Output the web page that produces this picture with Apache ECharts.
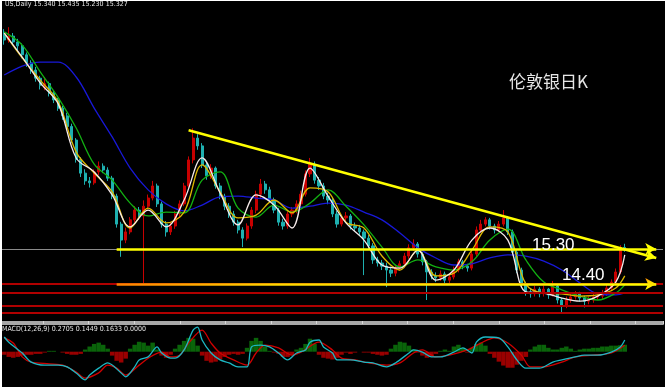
<!DOCTYPE html>
<html><head><meta charset="utf-8">
<script src="https://cdn.jsdelivr.net/npm/echarts@6/dist/echarts.min.js"></script>
<style>html,body{margin:0;padding:0;background:#000;}#c{width:665px;height:387px;}</style>
</head><body><div id="c"></div>
<script>
// ---------- data ----------
const categories = Array.from({length: 147}, (_, i) => 'D' + (i + 1));   // daily bars (+ empty right margin)
const tickCategories = Array.from({length: 145}, (_, i) => 'T' + (i + 1));

const opens = [
20.80,20.67,20.77,20.62,20.52,20.29,20.08,19.90,19.69,19.45,
19.55,19.31,19.13,18.92,18.72,18.45,18.10,17.60,17.25,17.05,
17.00,17.28,17.43,17.33,17.12,16.66,15.94,15.53,15.74,16.05,
16.30,16.15,16.40,16.61,16.92,16.46,15.94,15.74,15.89,16.20,
16.46,16.92,17.59,18.15,17.95,17.46,17.18,17.38,16.92,16.66,
16.40,16.20,15.99,15.79,15.58,15.89,16.30,16.71,16.97,16.82,
16.56,16.30,15.99,15.89,16.20,16.30,16.46,16.71,17.23,17.48,
17.07,16.92,16.66,16.56,16.20,15.94,16.10,16.15,15.89,15.84,
15.74,15.58,15.38,15.02,14.94,14.86,14.76,14.68,14.81,14.92,
15.12,15.33,15.43,15.17,14.97,14.71,14.61,14.56,14.66,14.50,
14.58,14.76,14.97,14.86,14.81,15.17,15.79,15.94,16.05,15.89,
15.79,15.94,16.10,15.74,15.22,14.76,14.40,14.20,14.15,14.27,
14.15,14.27,14.12,14.35,13.99,13.86,13.99,14.07,14.15,14.04,
13.96,13.99,14.07,14.09,14.17,14.30,14.45,14.71,15.34];
const closes = [
20.67,20.77,20.62,20.52,20.29,20.08,19.90,19.69,19.51,19.55,
19.31,19.13,18.92,18.72,18.45,18.10,17.60,17.25,17.05,17.00,
17.28,17.43,17.33,17.12,16.66,15.94,15.53,15.74,16.05,16.30,
16.15,16.40,16.61,16.92,16.46,15.94,15.74,15.89,16.20,16.46,
16.92,17.59,18.15,17.95,17.46,17.18,17.38,16.92,16.66,16.40,
16.20,15.99,15.79,15.58,15.89,16.30,16.71,16.97,16.82,16.56,
16.30,15.99,15.89,16.20,16.30,16.46,16.71,17.23,17.48,17.07,
16.92,16.66,16.56,16.20,15.94,16.10,16.15,15.89,15.84,15.74,
15.58,15.38,15.02,14.94,14.86,14.76,14.68,14.81,14.92,15.12,
15.33,15.43,15.17,14.97,14.71,14.61,14.56,14.66,14.50,14.58,
14.76,14.97,14.86,14.81,15.17,15.79,15.94,16.05,15.89,15.79,
15.94,16.10,15.74,15.22,14.76,14.40,14.20,14.15,14.27,14.15,
14.27,14.12,14.35,13.99,13.86,13.99,14.07,14.15,14.04,13.96,
13.99,14.07,14.09,14.17,14.30,14.45,14.71,15.34,15.327];
const highs = [
20.95,21.00,20.85,20.70,20.58,20.35,20.15,19.98,19.75,19.72,
19.60,19.36,19.18,18.98,18.80,18.52,18.15,17.66,17.35,17.15,
17.35,17.55,17.50,17.40,17.18,16.72,16.00,15.85,16.12,16.40,
16.38,16.55,16.70,17.05,16.98,16.52,16.02,15.98,16.28,16.55,
17.00,17.68,18.40,18.25,18.02,17.55,17.48,17.42,17.00,16.72,
16.48,16.28,16.05,15.86,15.96,16.38,16.80,17.10,17.05,16.90,
16.62,16.36,16.08,16.28,16.38,16.55,16.80,17.32,17.64,17.55,
17.15,17.00,16.75,16.62,16.28,16.18,16.25,16.20,15.98,15.92,
15.80,15.66,15.45,15.10,15.02,14.95,14.85,14.90,15.00,15.20,
15.42,15.55,15.48,15.22,15.02,14.78,14.70,14.75,14.72,14.66,
14.85,15.05,15.02,14.92,15.25,15.88,16.05,16.12,16.10,15.95,
16.02,16.30,16.15,15.80,15.28,14.82,14.46,14.28,14.35,14.32,
14.36,14.30,14.48,14.40,14.05,14.08,14.15,14.22,14.20,14.10,
14.08,14.15,14.18,14.25,14.38,14.52,14.80,15.40,15.435];
const lows = [
20.55,20.60,20.55,20.40,20.20,19.98,19.80,19.60,19.40,19.38,
19.22,19.05,18.85,18.62,18.38,18.02,17.52,17.15,16.95,16.88,
16.95,17.20,17.25,17.05,16.58,15.85,15.10,15.45,15.68,15.98,
16.05,14.40,16.32,16.55,16.38,15.85,15.62,15.66,15.82,16.12,
16.40,16.85,17.50,17.85,17.38,17.08,17.10,16.85,16.58,16.30,
16.10,15.90,15.70,15.35,15.52,15.82,16.22,16.62,16.72,16.48,
16.22,15.90,15.80,15.82,16.12,16.22,16.40,16.65,17.15,16.98,
16.82,16.58,16.45,16.12,15.85,15.88,16.02,15.80,15.75,15.65,
14.63,15.28,14.92,14.85,14.76,14.32,14.58,14.60,14.74,14.85,
15.05,15.25,15.08,14.88,13.99,14.52,14.45,14.48,14.40,14.42,
14.52,14.70,14.78,14.72,14.75,15.10,15.72,15.88,15.80,15.70,
15.74,15.88,15.66,15.14,14.68,14.32,14.10,14.05,14.08,14.06,
14.08,14.02,14.08,13.90,13.66,13.78,13.92,14.00,13.95,13.80,
13.88,13.92,14.00,14.02,14.10,14.22,14.38,14.65,15.23];

// moving-average lines read at these bars
const maBars = [0,4,8,12,16,20,24,28,32,36,40,44,48,52,56,60,64,68,72,76,80,84,88,92,96,100,104,108,112,116,120,124,128,132,136,138];
const maWhite = [20.85,20.23,19.57,19.03,17.64,17.28,16.69,15.87,16.30,15.87,16.56,17.64,16.74,15.92,16.69,16.43,15.84,17.38,16.66,15.97,15.53,14.89,14.81,15.27,14.50,14.76,15.53,15.84,15.53,14.20,14.17,14.04,13.96,14.09,14.45,15.15];
const maYellow = [20.85,20.21,19.64,19.08,17.79,17.25,16.77,15.84,16.35,15.97,16.25,17.46,16.77,16.10,16.17,16.56,16.23,16.87,16.77,15.99,15.84,15.12,14.76,15.27,14.61,14.68,15.27,15.87,15.74,14.40,14.17,14.15,14.09,14.12,14.30,14.61];
const maGreen = [20.88,20.54,19.85,19.19,18.41,17.48,17.07,16.48,16.15,16.25,16.23,17.07,17.28,16.35,16.12,16.43,16.25,16.48,16.82,16.40,15.92,15.35,14.84,15.02,14.84,14.76,14.97,15.53,15.81,15.02,14.45,14.25,14.09,13.99,14.17,14.38];
const maBlue = [19.77,20.00,20.10,20.10,19.72,18.92,18.18,17.38,16.82,16.46,16.28,16.43,16.64,16.66,16.61,16.56,16.35,16.40,16.48,16.43,16.25,16.05,15.71,15.33,15.07,14.89,14.92,15.07,15.15,15.12,14.99,14.76,14.43,14.15,14.12,14.17];

// drawn levels
const grayLevels = [15.30];
const redLevels = [14.40, 14.18, 13.85, 13.67];
const resistance = 15.30, support = 14.40;
const levelStartBar = 25, levelEndBar = 145;
const trendStart = [41, 18.35], trendEnd = [145, 15.07];

// MACD(12,26,9)
const macdBars = [0,1,4,6,9,12,14,16,18,19,21,23,26,27,29,30,32,34,35,37,38,40,42,43,44,46,48,50,52,54,55,57,59,61,63,65,67,68,70,71,73,74,77,80,82,85,87,90,91,93,95,97,100,102,104,105,107,110,112,114,116,119,122,124,127,129,132,135,137,138];
const macdMain = [0.34,0.22,-0.03,-0.24,-0.31,-0.31,-0.35,-0.49,-0.65,-0.54,-0.38,-0.26,-0.49,-0.58,-0.35,-0.19,-0.12,0.11,-0.03,-0.15,-0.15,0.04,0.50,0.57,0.27,-0.03,-0.19,-0.26,-0.35,-0.35,0.11,0.15,0.11,-0.03,-0.19,-0.03,0.04,0.22,0.27,0.11,-0.03,-0.19,-0.19,-0.24,-0.26,-0.35,-0.26,-0.03,0.04,-0.01,-0.12,-0.12,-0.01,0.09,-0.03,0.22,0.34,0.32,0.11,-0.19,-0.38,-0.38,-0.24,-0.19,-0.12,-0.08,-0.08,-0.01,0.11,0.27];
const signalBars = [0,2,4,6,10,13,16,18,21,23,25,27,30,32,35,37,39,41,44,46,48,51,54,56,58,61,64,66,70,73,75,78,81,85,88,91,93,96,99,103,106,109,112,115,117,120,124,127,131,135,138];
const macdSignal = [0.32,0.20,-0.12,-0.24,-0.28,-0.31,-0.47,-0.61,-0.49,-0.31,-0.38,-0.54,-0.31,-0.15,-0.01,-0.12,-0.08,0.20,0.50,0.20,-0.03,-0.19,-0.31,-0.03,0.15,0.09,-0.08,-0.01,0.22,0.04,-0.15,-0.19,-0.26,-0.31,-0.26,-0.03,0.04,-0.12,-0.08,0.04,0.20,0.32,0.20,-0.08,-0.35,-0.35,-0.24,-0.12,-0.08,-0.03,0.15];
const macdHist = [
-0.07,-0.12,-0.14,-0.12,-0.09,
-0.07,-0.07,-0.05,-0.05,-0.02,0.02,0.02,0.00,-0.02,-0.05,-0.07,-0.07,-0.05,
0.05,0.12,0.18,0.21,0.16,0.07,
-0.09,-0.21,-0.25,-0.16,
0.07,0.16,0.23,0.21,0.14,
0.21,0.05,
-0.09,-0.14,-0.07,
0.07,0.16,0.25,0.32,0.30,0.14,
-0.09,-0.21,-0.25,-0.23,-0.18,-0.12,-0.07,
-0.05,-0.07,-0.05,
0.09,0.25,0.32,0.25,0.12,
0.02,-0.02,-0.05,
-0.12,-0.12,-0.07,
0.05,0.09,0.18,0.30,0.18,
-0.07,-0.14,-0.16,-0.18,-0.14,-0.07,
-0.02,-0.05,-0.02,0.00,-0.02,-0.02,-0.05,
-0.07,-0.09,-0.07,
0.07,0.16,0.23,0.21,0.14,
0.05,-0.02,
-0.09,-0.14,-0.12,-0.05,
0.02,0.05,0.02,
0.12,0.16,0.09,
-0.02,
0.09,0.18,0.21,0.14,
-0.05,-0.14,-0.23,-0.32,-0.37,-0.37,-0.30,-0.21,-0.12,
0.05,0.12,0.16,0.16,0.09,0.05,
0.05,0.09,0.12,0.07,0.02,
0.05,0.07,0.07,0.09,0.09,0.12,0.12,0.14,0.14,0.15,0.16];

// ---------- chart ----------
const candleData = opens.map((o, i) => [o, closes[i], lows[i], highs[i]]);
const pairs = (bars, vals) => bars.map((b, k) => [b, vals[k]]);
const maLine = (name, vals, color, w) => ({
  name, type: 'line', xAxisIndex: 0, yAxisIndex: 0, data: pairs(maBars, vals),
  symbol: 'none', smooth: 0.35, silent: true, z: 3,
  lineStyle: {color, width: w}
});

const chart = echarts.init(document.getElementById('c'));
chart.setOption({
  backgroundColor: '#000',
  animation: false,
  grid: [
    {left: 2, top: 2, width: 661, height: 320},
    {left: 2, top: 324, width: 661, height: 60}
  ],
  xAxis: [
    {type: 'category', gridIndex: 0, data: categories, boundaryGap: true,
     axisLine: {show: true, lineStyle: {color: '#a8a8a8', width: 2}},
     axisTick: {show: false}, axisLabel: {show: false}, splitLine: {show: false}},
    {type: 'category', gridIndex: 1, data: categories, boundaryGap: true, show: false},
    {type: 'category', gridIndex: 1, data: tickCategories, boundaryGap: true,
     axisLine: {show: true, lineStyle: {color: '#a8a8a8', width: 2}},
     axisTick: {show: true, interval: (i) => i % 10 === 9, length: 3, lineStyle: {color: '#d8d8d8'}},
     axisLabel: {show: false}, splitLine: {show: false}}
  ],
  yAxis: [
    {type: 'value', gridIndex: 0, min: 13.425, max: 21.647, show: false, splitLine: {show: false}},
    {type: 'value', gridIndex: 1, min: -0.746, max: 0.64, show: false, splitLine: {show: false}}
  ],
  series: [
    {name: 'levels', type: 'line', xAxisIndex: 0, yAxisIndex: 0, data: [], z: 1,
     markLine: {silent: true, symbol: ['none', 'none'], label: {show: false},
       data: [
         ...grayLevels.map(v => ({yAxis: v, lineStyle: {color: '#8a8a8a', width: 1, type: 'solid'}})),
         ...redLevels.map(v => ({yAxis: v, lineStyle: {color: '#b00000', width: 2, type: 'solid'}}))
       ]}},
    {name: 'XAGUSD', type: 'candlestick', xAxisIndex: 0, yAxisIndex: 0, data: candleData,
     barWidth: 2.6, z: 2,
     itemStyle: {color: '#c80000', color0: '#1eb0b0', borderColor: '#c80000', borderColor0: '#1eb0b0', borderWidth: 1}},
    maLine('MA blue', maBlue, '#1818d8', 1.3),
    maLine('MA green', maGreen, '#12b012', 1.3),
    maLine('MA yellow', maYellow, '#dcb800', 1.3),
    maLine('MA white', maWhite, '#f6eaea', 1.3),
    {name: 'drawn', type: 'line', xAxisIndex: 0, yAxisIndex: 0, data: [], z: 5,
     markLine: {silent: true, symbol: ['none', 'arrow'], symbolSize: [9, 11], label: {show: false},
       data: [
         [{coord: [levelStartBar, resistance], lineStyle: {color: '#ffff00', width: 2.5, type: 'solid'}},
          {coord: [levelEndBar, resistance]}],
         [{coord: [levelStartBar, support], lineStyle: {width: 2.5, type: 'solid',
            color: {type: 'linear', x: 0, y: 0, x2: 1, y2: 0,
                    colorStops: [{offset: 0, color: '#ff8000'}, {offset: 0.3, color: '#ffd800'}, {offset: 1, color: '#ffff00'}]}}},
          {coord: [levelEndBar, support]}],
         [{coord: trendStart, lineStyle: {color: '#ffff00', width: 2.5, type: 'solid'}},
          {coord: trendEnd}]
       ]}},
    {name: 'MACD hist', type: 'bar', xAxisIndex: 1, yAxisIndex: 1, data: macdHist,
     barCategoryGap: '0%', barWidth: '100%', silent: true,
     itemStyle: {color: (p) => p.value >= 0 ? '#0a640a' : '#9a0000'}},
    {name: 'MACD', type: 'line', xAxisIndex: 1, yAxisIndex: 1, data: pairs(macdBars, macdMain),
     symbol: 'none', smooth: 0.3, silent: true, lineStyle: {color: '#1cb8c4', width: 1.3}, z: 4},
    {name: 'Signal', type: 'line', xAxisIndex: 1, yAxisIndex: 1, data: pairs(signalBars, macdSignal),
     symbol: 'none', smooth: 0.3, silent: true, lineStyle: {color: '#d00000', width: 1.3}, z: 3}
  ],
  graphic: [
    {type: 'rect', left: 0, top: 0, shape: {width: 2, height: 387}, style: {fill: '#ffffff'}, silent: true, z: 100},
    {type: 'rect', left: 0, top: 0, shape: {width: 665, height: 1}, style: {fill: '#ffffff'}, silent: true, z: 100},
    {type: 'text', left: 5, top: 1, silent: true, z: 100,
     style: {text: 'US,Daily 15.340 15.435 15.230 15.327', fill: '#e8e8e8', font: '7px "DejaVu Sans Condensed", "Liberation Sans Narrow", sans-serif'}},
    {type: 'text', left: 2, top: 326, silent: true, z: 100,
     style: {text: 'MACD(12,26,9) 0.2705 0.1449 0.1633 0.0000', fill: '#e8e8e8', font: '7px "DejaVu Sans Condensed", "Liberation Sans Narrow", sans-serif'}},
    {type: 'text', left: 509, top: 73, silent: true, z: 100,
     style: {text: '伦敦银日K', fill: '#e6e6e6', font: '17px "Noto Sans CJK SC", sans-serif'}},
    {type: 'text', left: 532, top: 237, silent: true, z: 100,
     style: {text: '15.30', fill: '#ffffff', font: '17px "Liberation Sans", Arial, sans-serif'}},
    {type: 'text', left: 562, top: 267, silent: true, z: 100,
     style: {text: '14.40', fill: '#ffffff', font: '17px "Liberation Sans", Arial, sans-serif'}}
  ]
});
</script></body></html>
